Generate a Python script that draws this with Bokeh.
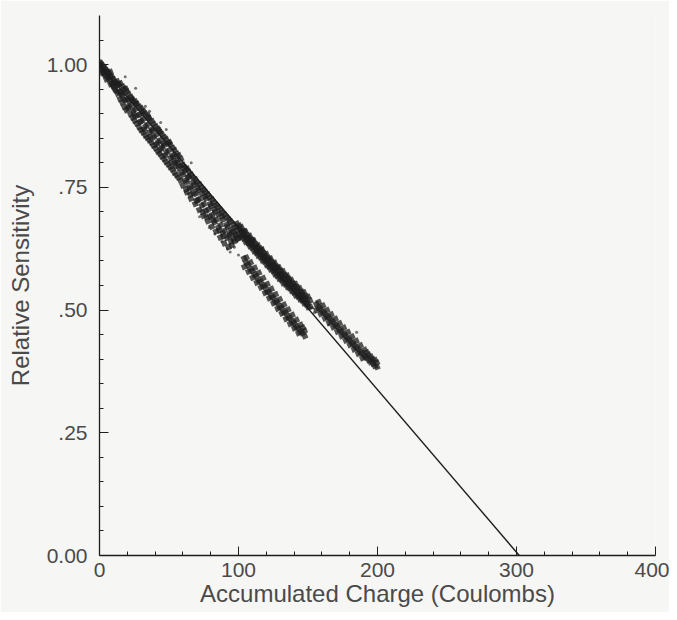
from bokeh.plotting import figure
from bokeh.models import Range1d, FixedTicker
from bokeh.embed import file_html
from bokeh.resources import INLINE

# ---- data ----
x_ticks = [0, 100, 200, 300, 400]
x_minor = [20, 40, 60, 80, 120, 140, 160, 180, 220, 240, 260, 280, 320, 340, 360, 380]
y_ticks = [0.0, 0.25, 0.5, 0.75, 1.0]
y_tick_labels = {0.0: "0.00", 0.25: ".25", 0.5: ".50", 0.75: ".75", 1.0: "1.00"}
y_minor = [0.05, 0.10, 0.15, 0.20, 0.30, 0.35, 0.40, 0.45, 0.55, 0.60, 0.65, 0.70,
           0.80, 0.85, 0.90, 0.95, 1.05]

fit_x = [0, 302]
fit_y = [1.0, 0.0]

# early part of the band (0-14 C)
band_a_x = [0.3, 0.3, 1.1, 1.1, 2.0, 2.0, 3.0, 3.0, 4.1, 4.1, 5.0, 5.0, 6.0, 6.0, 7.1, 7.1,
            8.0, 8.0, 9.0, 9.0, 10.1, 10.1, 11.0, 11.0, 12.0, 12.0, 13.1, 13.1, 14.0, 14.0]
band_a_y = [1.004, 0.994, 0.990, 1.002, 0.999, 0.983, 0.986, 0.995, 0.978, 0.992, 0.988, 0.970,
            0.974, 0.985, 0.969, 0.981, 0.960, 0.976, 0.975, 0.962, 0.955, 0.970, 0.965, 0.950,
            0.947, 0.962, 0.958, 0.941, 0.945, 0.960]

# band 15-60 C
band_b_x = [15.0, 15.2, 14.8, 16.5, 16.7, 16.3, 18.0, 18.1, 17.8, 19.5, 19.7, 19.4,
            21.0, 21.2, 20.8, 22.5, 22.6, 22.3, 24.0, 24.2, 23.9, 25.5, 25.6, 25.3,
            27.0, 27.1, 26.8, 28.5, 28.7, 28.4, 30.0, 30.2, 29.8, 31.5, 31.6, 31.3,
            33.0, 33.2, 32.9, 34.5, 34.7, 34.3, 36.0, 36.1, 35.8, 37.5, 37.7, 37.4,
            39.0, 39.2, 38.8, 40.5, 40.6, 40.3, 42.0, 42.2, 41.9, 43.5, 43.7, 43.3,
            45.0, 45.1, 44.8, 46.5, 46.7, 46.4, 48.0, 48.2, 47.8, 49.5, 49.6, 49.3,
            51.0, 51.2, 50.9, 52.5, 52.7, 52.3, 54.0, 54.1, 53.8, 55.5, 55.7, 55.4,
            57.0, 57.2, 56.8, 58.5, 58.6, 58.3]
band_b_y = [0.962, 0.944, 0.930, 0.940, 0.955, 0.923, 0.951, 0.928, 0.914, 0.929, 0.945, 0.907,
            0.940, 0.915, 0.927, 0.918, 0.934, 0.899, 0.928, 0.906, 0.892, 0.909, 0.925, 0.886,
            0.920, 0.896, 0.880, 0.898, 0.914, 0.873, 0.911, 0.885, 0.867, 0.889, 0.906, 0.862,
            0.900, 0.874, 0.856, 0.878, 0.897, 0.851, 0.889, 0.862, 0.846, 0.868, 0.885, 0.841,
            0.879, 0.852, 0.835, 0.857, 0.874, 0.830, 0.869, 0.842, 0.823, 0.846, 0.862, 0.819,
            0.858, 0.831, 0.813, 0.836, 0.852, 0.808, 0.848, 0.821, 0.802, 0.825, 0.840, 0.797,
            0.837, 0.810, 0.791, 0.815, 0.830, 0.787, 0.826, 0.800, 0.780, 0.805, 0.818, 0.775,
            0.815, 0.789, 0.770, 0.794, 0.808, 0.764]

# band 60-100 C (widest, lying below the line)
band_c_x = [60.0, 60.2, 59.9, 61.5, 61.7, 61.3, 63.0, 63.1, 62.8, 64.5, 64.7, 64.4,
            66.0, 66.2, 65.8, 67.5, 67.6, 67.3, 69.0, 69.2, 68.9, 70.5, 70.7, 70.3,
            72.0, 72.1, 71.8, 73.5, 73.7, 73.4, 75.0, 75.2, 74.8, 76.5, 76.6, 76.3,
            78.0, 78.2, 77.9, 79.5, 79.7, 79.3, 81.0, 81.1, 80.8, 82.5, 82.7, 82.4,
            84.0, 84.2, 83.8, 85.5, 85.6, 85.3, 87.0, 87.2, 86.9, 88.5, 88.7, 88.3,
            90.0, 90.1, 89.8, 91.5, 91.7, 91.4, 93.0, 93.2, 92.8, 94.5, 94.6, 94.3,
            96.0, 96.2, 95.9, 97.5, 97.7, 97.3, 99.0, 99.1, 98.8]
band_c_y = [0.796, 0.776, 0.754, 0.784, 0.764, 0.790, 0.788, 0.761, 0.740, 0.772, 0.750, 0.781,
            0.776, 0.748, 0.727, 0.760, 0.738, 0.770, 0.766, 0.737, 0.716, 0.748, 0.725, 0.760,
            0.756, 0.726, 0.704, 0.737, 0.713, 0.750, 0.745, 0.716, 0.692, 0.727, 0.702, 0.740,
            0.735, 0.705, 0.681, 0.716, 0.690, 0.729, 0.725, 0.694, 0.670, 0.705, 0.679, 0.719,
            0.714, 0.684, 0.660, 0.695, 0.668, 0.709, 0.704, 0.673, 0.648, 0.684, 0.657, 0.699,
            0.694, 0.662, 0.636, 0.674, 0.647, 0.689, 0.684, 0.652, 0.628, 0.663, 0.640, 0.680,
            0.674, 0.645, 0.660, 0.654, 0.668, 0.640, 0.664, 0.645, 0.676]

# main band 100-152 C (on / slightly above the line)
band_d_x = [100.5, 100.7, 100.3, 102.0, 102.2, 101.9, 103.5, 103.7, 103.3, 105.0, 105.1, 104.8,
            106.5, 106.7, 106.4, 108.0, 108.2, 107.8, 109.5, 109.6, 109.3, 111.0, 111.2, 110.9,
            112.5, 112.7, 112.3, 114.0, 114.1, 113.8, 115.5, 115.7, 115.4, 117.0, 117.2, 116.8,
            118.5, 118.6, 118.3, 120.0, 120.2, 119.9, 121.5, 121.7, 121.3, 123.0, 123.1, 122.8,
            124.5, 124.7, 124.4, 126.0, 126.2, 125.8, 127.5, 127.6, 127.3, 129.0, 129.2, 128.9,
            130.5, 130.7, 130.3, 132.0, 132.1, 131.8, 133.5, 133.7, 133.4, 135.0, 135.2, 134.8,
            136.5, 136.6, 136.3, 138.0, 138.2, 137.9, 139.5, 139.7, 139.3, 141.0, 141.1, 140.8,
            142.5, 142.7, 142.4, 144.0, 144.2, 143.8, 145.5, 145.6, 145.3, 147.0, 147.2, 146.9,
            148.5, 148.7, 148.3, 150.0, 150.1, 149.8, 151.5, 151.7]
band_d_y = [0.672, 0.655, 0.646, 0.669, 0.650, 0.659, 0.661, 0.646, 0.653, 0.660, 0.639, 0.648,
            0.652, 0.637, 0.644, 0.651, 0.630, 0.637, 0.643, 0.627, 0.635, 0.641, 0.620, 0.629,
            0.634, 0.617, 0.626, 0.632, 0.611, 0.619, 0.625, 0.608, 0.617, 0.623, 0.601, 0.610,
            0.615, 0.599, 0.607, 0.614, 0.592, 0.601, 0.606, 0.589, 0.598, 0.605, 0.583, 0.591,
            0.597, 0.580, 0.589, 0.596, 0.573, 0.582, 0.588, 0.570, 0.579, 0.587, 0.564, 0.573,
            0.580, 0.562, 0.571, 0.579, 0.555, 0.565, 0.571, 0.553, 0.562, 0.570, 0.547, 0.556,
            0.563, 0.545, 0.554, 0.561, 0.539, 0.547, 0.554, 0.536, 0.545, 0.553, 0.530, 0.539,
            0.546, 0.528, 0.537, 0.544, 0.522, 0.530, 0.537, 0.520, 0.528, 0.536, 0.514, 0.522,
            0.528, 0.512, 0.520, 0.527, 0.506, 0.514, 0.519, 0.506]

# extra irregular points filling the band (0-146 C)
fill_x = [3.4, 7.8, 9.5, 12.7, 16.1, 19.0, 20.4, 23.1, 25.0, 26.2, 29.1, 30.9, 32.2, 35.3,
          36.8, 38.1, 41.2, 42.9, 44.1, 46.0, 47.3, 50.2, 51.8, 53.1, 55.0, 56.2, 59.0, 62.3,
          63.7, 65.3, 68.1, 69.8, 71.2, 74.2, 75.8, 77.1, 80.3, 81.9, 83.3, 86.2, 87.8, 89.2,
          92.1, 93.8, 95.1, 98.2, 101.3, 104.4, 107.6, 110.3, 113.4, 116.6, 119.3, 122.4,
          125.6, 128.3, 131.4, 134.6, 137.3, 140.4, 143.6, 146.3]
fill_y = [0.981, 0.985, 0.958, 0.966, 0.936, 0.950, 0.911, 0.930, 0.897, 0.920, 0.883, 0.902,
          0.868, 0.892, 0.853, 0.866, 0.838, 0.866, 0.828, 0.839, 0.815, 0.842, 0.801, 0.812,
          0.793, 0.800, 0.780, 0.746, 0.770, 0.735, 0.755, 0.722, 0.744, 0.700, 0.731, 0.690,
          0.712, 0.683, 0.700, 0.662, 0.691, 0.650, 0.670, 0.655, 0.632, 0.652, 0.664, 0.660,
          0.647, 0.642, 0.628, 0.622, 0.610, 0.603, 0.592, 0.585, 0.574, 0.566, 0.556, 0.548,
          0.536, 0.530]

# lower band 104-148 C
lower_x = [104.0, 104.2, 105.5, 105.7, 107.0, 107.2, 108.5, 108.7, 110.0, 110.2, 111.5, 111.7,
           113.0, 113.2, 114.5, 114.7, 116.0, 116.2, 117.5, 117.7, 119.0, 119.2, 120.5, 120.7,
           122.0, 122.2, 123.5, 123.7, 125.0, 125.2, 126.5, 126.7, 128.0, 128.2, 129.5, 129.7,
           131.0, 131.2, 132.5, 132.7, 134.0, 134.2, 135.5, 135.7, 137.0, 137.2, 138.5, 138.7,
           140.0, 140.2, 141.5, 141.7, 143.0, 143.2, 144.5, 144.7, 146.0, 146.2, 147.5, 147.7]
lower_y = [0.605, 0.588, 0.596, 0.607, 0.592, 0.578, 0.583, 0.597, 0.580, 0.566, 0.572, 0.586,
           0.569, 0.556, 0.560, 0.576, 0.558, 0.546, 0.549, 0.565, 0.548, 0.535, 0.538, 0.553,
           0.537, 0.524, 0.528, 0.543, 0.526, 0.514, 0.517, 0.532, 0.516, 0.503, 0.507, 0.522,
           0.505, 0.493, 0.496, 0.511, 0.495, 0.482, 0.486, 0.501, 0.484, 0.472, 0.476, 0.490,
           0.474, 0.463, 0.466, 0.480, 0.463, 0.453, 0.456, 0.470, 0.453, 0.464, 0.458, 0.447]

# upper band 156-200 C (above the line)
upper_x = [156.0, 156.2, 157.5, 157.7, 159.0, 159.2, 160.5, 160.7, 162.0, 162.2, 163.5, 163.7,
           165.0, 165.2, 166.5, 166.7, 168.0, 168.2, 169.5, 169.7, 171.0, 171.2, 172.5, 172.7,
           174.0, 174.2, 175.5, 175.7, 177.0, 177.2, 178.5, 178.7, 180.0, 180.2, 181.5, 181.7,
           183.0, 183.2, 184.5, 184.7, 186.0, 186.2, 187.5, 187.7, 189.0, 189.2, 190.5, 190.7,
           192.0, 192.2, 193.5, 193.7, 195.0, 195.2, 196.5, 196.7, 198.0, 198.2, 199.5, 199.7]
upper_y = [0.512, 0.500, 0.505, 0.516, 0.503, 0.492, 0.496, 0.509, 0.494, 0.483, 0.487, 0.500,
           0.485, 0.474, 0.478, 0.491, 0.476, 0.465, 0.469, 0.482, 0.467, 0.456, 0.460, 0.473,
           0.457, 0.447, 0.451, 0.464, 0.448, 0.438, 0.442, 0.455, 0.439, 0.429, 0.433, 0.446,
           0.430, 0.420, 0.424, 0.437, 0.421, 0.411, 0.415, 0.428, 0.412, 0.402, 0.406, 0.419,
           0.403, 0.414, 0.409, 0.398, 0.394, 0.405, 0.400, 0.391, 0.386, 0.398, 0.393, 0.384]

# isolated specks
stray_x = [18.5, 26.0, 33.0, 36.0, 44.0, 48.0, 66.0, 72.0, 79.0, 83.0, 88.0, 92.0, 94.0, 97.0,
           100.0, 153.0, 154.5, 165.0, 185.0]
stray_y = [0.975, 0.952, 0.915, 0.905, 0.882, 0.868, 0.800, 0.690, 0.668, 0.655, 0.640, 0.625,
           0.618, 0.628, 0.612, 0.505, 0.495, 0.470, 0.455]

# ---- figure ----
BG = "#f6f6f4"
INK = "#1e1e1e"
TXT = "#4a4a4a"
FONT = "Liberation Sans"

p = figure(width=669, height=612, output_backend="svg", toolbar_location=None,
           x_range=Range1d(0, 400), y_range=Range1d(0, 1.10),
           min_border_left=99, min_border_right=14, min_border_top=15, min_border_bottom=57,
           background_fill_color=BG, border_fill_color=BG)
p.outline_line_color = None
p.grid.visible = False

p.line(fit_x, fit_y, line_color=INK, line_width=1.4)

for xs, ys in [(band_a_x, band_a_y), (band_b_x, band_b_y), (band_c_x, band_c_y),
               (band_d_x, band_d_y), (fill_x, fill_y), (lower_x, lower_y), (upper_x, upper_y)]:
    p.scatter(xs, ys, size=5.5, marker="square", angle=0.4, fill_color=INK, line_color=None,
              fill_alpha=0.75)
p.scatter(stray_x, stray_y, size=3, marker="circle", fill_color=INK, line_color=None,
          fill_alpha=0.6)

p.xaxis.ticker = FixedTicker(ticks=x_ticks, minor_ticks=x_minor)
p.yaxis.ticker = FixedTicker(ticks=y_ticks, minor_ticks=y_minor)
p.yaxis.major_label_overrides = y_tick_labels

for ax in (p.xaxis, p.yaxis):
    ax.axis_line_color = INK
    ax.axis_line_width = 1.3
    ax.major_tick_line_color = INK
    ax.minor_tick_line_color = INK
    ax.major_tick_in = 9
    ax.major_tick_out = 0
    ax.minor_tick_in = 4
    ax.minor_tick_out = 0
    ax.major_label_text_font = FONT
    ax.major_label_text_font_size = "21px"
    ax.major_label_text_color = TXT
    ax.axis_label_text_font = FONT
    ax.axis_label_text_font_size = "24px"
    ax.axis_label_text_font_style = "normal"
    ax.axis_label_text_color = TXT

p.xaxis.axis_label = "Accumulated Charge (Coulombs)"
p.yaxis.axis_label = "Relative Sensitivity"
p.xaxis.major_label_standoff = 7
p.xaxis.axis_label_standoff = 0
p.yaxis.major_label_standoff = 12
p.yaxis.axis_label_standoff = 10

open("out.html", "w").write(file_html(p, INLINE))
